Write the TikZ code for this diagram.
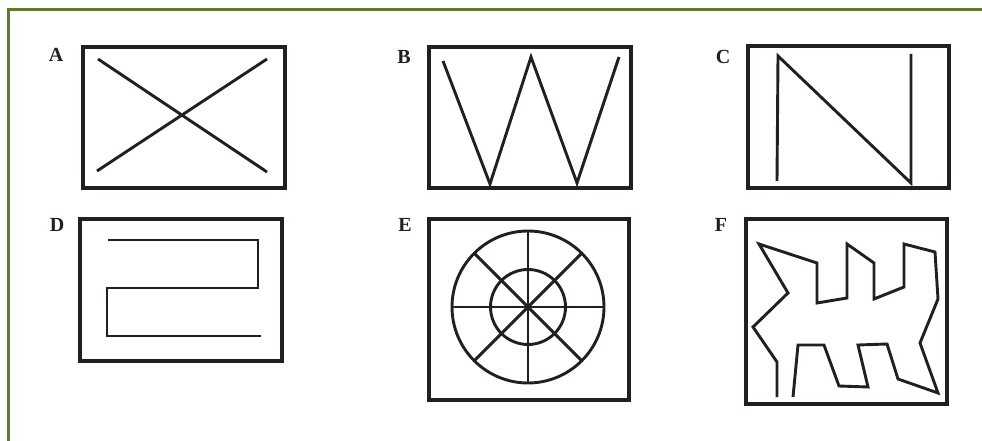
\documentclass[tikz,border=0pt]{standalone}
\usepackage{fontspec}
\setmainfont{Liberation Serif}
\usetikzlibrary{calc}
\definecolor{frameGreen}{RGB}{92,125,42}
\definecolor{ink}{RGB}{35,31,32}
\begin{document}
\begin{tikzpicture}[x=1pt,y=-1pt,
  panel/.style={draw=ink,line width=3.2pt},
  stroke/.style={draw=ink,line width=2.9pt,line join=miter},
  lbl/.style={font=\fontsize{20}{20}\selectfont\bfseries,text=ink,inner sep=0pt,anchor=center}]
\useasboundingbox (0,0) rectangle (982,441);
\fill[white] (0,0) rectangle (982,441);
% frame (top and left only)
\draw[frameGreen,line width=3pt] (8.5,441) -- (8.5,10) -- (982,10);
% labels
\node[lbl] (la) at (56,55) {A};
\node[lbl] (lb) at (404,57) {B};
\node[lbl] (lc) at (723,57) {C};
\node[lbl] (ld) at (57,225) {D};
\node[lbl] (le) at (405,225) {E};
\node[lbl] (lf) at (721,225) {F};
% A
\draw[panel] (83,47) rectangle (285,188);
\draw[stroke] (98,59) -- (267,172);
\draw[stroke] (97,171) -- (267,59);
% B
\draw[panel] (429,47) rectangle (631,188);
\draw[stroke] (443,61) -- (490,184) -- (531,57) -- (577,183) -- (619,57);
% C
\draw[panel] (748,46) rectangle (949,188);
\draw[stroke] (777,181) -- (778,56) -- (911,183) -- (911,54);
% D
\draw[panel] (80,219) rectangle (282,361);
\draw[stroke] (108,240) -- (258,240) -- (258,288) -- (107,288) -- (107,336) -- (261,336);
% E
\draw[panel] (429,219) rectangle (629,400);
\coordinate (ec) at (528,307);
\draw[stroke] (ec) circle[radius=76];
\draw[stroke] (ec) circle[radius=37.5];
\foreach \a in {0,45,90,135} {
  \draw[stroke] ($(ec)+(\a:76)$) -- ($(ec)+(\a+180:76)$);
}
% F
\draw[panel] (746,219) rectangle (947,404);
\draw[stroke] (777,397) -- (777,362) -- (753,327) -- (788,293) -- (759,244)
  -- (817,263) -- (817,303) -- (847,298) -- (847,244) -- (874,263) -- (874,299)
  -- (904,287) -- (904,244) -- (935,252) -- (938,299) -- (920,343) -- (938,393)
  -- (898,379) -- (887,344) -- (858,345) -- (868,387) -- (839,386) -- (824,345)
  -- (798,345) -- (793,397);
\end{tikzpicture}
\end{document}
